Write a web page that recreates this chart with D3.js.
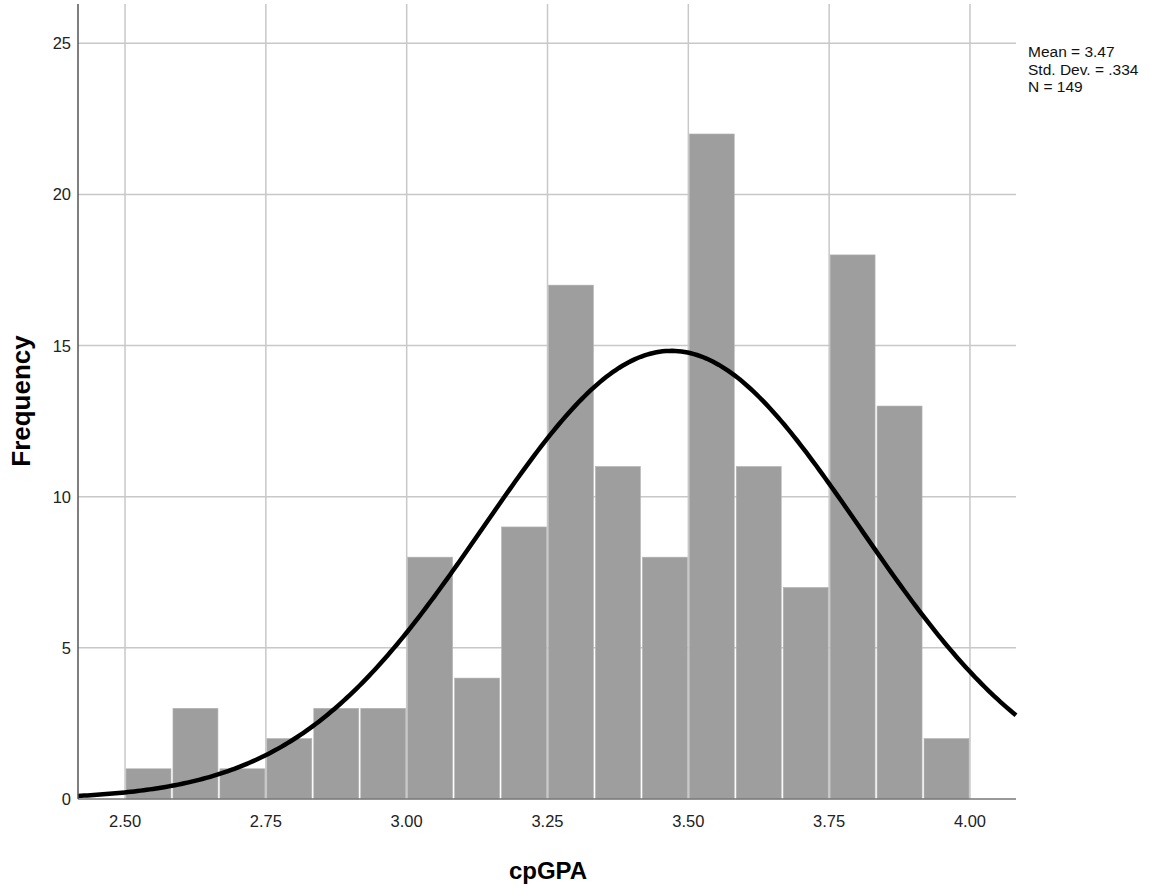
<!DOCTYPE html>
<html>
<head>
<meta charset="utf-8">
<script src="https://cdn.jsdelivr.net/npm/d3@7"></script>
<style>
    body { margin: 0; background: #fff; }
    #chart-area { width: 1151px; height: 888px; }
    text { font-family: "Liberation Sans", Arial, sans-serif; }
</style>
</head>
<body>
<div id="chart-area"></div>
<script>

// histogram bins (cpGPA) and counts
const binEdges = [2.5, 2.5833, 2.6667, 2.75, 2.8333, 2.9167, 3.0, 3.0833, 3.1667, 3.25,
                  3.3333, 3.4167, 3.5, 3.5833, 3.6667, 3.75, 3.8333, 3.9167, 4.0];
const counts = [1, 3, 1, 2, 3, 3, 8, 4, 9, 17, 11, 8, 22, 11, 7, 18, 13, 2];

// axis ticks
const xTicks = [2.5, 2.75, 3.0, 3.25, 3.5, 3.75, 4.0];
const xTickLabels = ["2.50", "2.75", "3.00", "3.25", "3.50", "3.75", "4.00"];
const yTicks = [0, 5, 10, 15, 20, 25];

// summary stats shown at the right
const statNames = ["Mean", "Std. Dev.", "N"];
const statValues = ["3.47", ".334", "149"];
const mean = 3.47, stdDev = 0.334, n = 149;


class HistogramVis {

    constructor(parentElement) {
        this.parentElement = parentElement;
        this.initVis();
    }

    initVis() {
        let vis = this;

        vis.svg = d3.select("#" + vis.parentElement).append("svg")
            .attr("width", 1151)
            .attr("height", 888);

        // plot box
        vis.left = 78; vis.right = 1016; vis.top = 4; vis.bottom = 799;

        vis.x = d3.scaleLinear()
            .domain([2.4165, 4.0817])
            .range([vis.left, vis.right]);

        vis.y = d3.scaleLinear()
            .domain([0, 26.3])
            .range([vis.bottom, vis.top]);

        vis.drawGrid();
        vis.drawBars();
        vis.drawCurve();
        vis.drawAxes();
        vis.drawStats();
    }

    drawGrid() {
        let vis = this;
        let grid = vis.svg.append("g").attr("class", "grid");

        grid.selectAll(".hgrid").data(yTicks.filter(d => d > 0))
            .enter().append("line")
            .attr("x1", vis.left).attr("x2", vis.right)
            .attr("y1", d => vis.y(d)).attr("y2", d => vis.y(d))
            .attr("stroke", "#c8c8c8").attr("stroke-width", 1.5);

        grid.selectAll(".vgrid").data(xTicks)
            .enter().append("line")
            .attr("x1", d => vis.x(d)).attr("x2", d => vis.x(d))
            .attr("y1", vis.top).attr("y2", vis.bottom)
            .attr("stroke", "#c8c8c8").attr("stroke-width", 1.5);
    }

    drawBars() {
        let vis = this;
        let bins = counts.map((c, i) => ({x0: binEdges[i], x1: binEdges[i + 1], count: c}));

        vis.svg.append("g").selectAll("rect").data(bins)
            .enter().append("rect")
            .attr("x", d => vis.x(d.x0) + 1)
            .attr("width", d => vis.x(d.x1) - vis.x(d.x0) - 2)
            .attr("y", d => vis.y(d.count))
            .attr("height", d => vis.bottom - vis.y(d.count))
            .attr("fill", "#9e9e9e")
            .attr("stroke", "#b4b4b4")
            .attr("stroke-width", 0.6);
    }

    drawCurve() {
        let vis = this;
        let binWidth = binEdges[1] - binEdges[0];
        let peak = n * binWidth / (stdDev * Math.sqrt(2 * Math.PI));
        let xs = d3.range(0, 301).map(i => vis.x.domain()[0] + i * (vis.x.domain()[1] - vis.x.domain()[0]) / 300);
        let pts = xs.map(v => [v, peak * Math.exp(-0.5 * Math.pow((v - mean) / stdDev, 2))]);

        vis.svg.append("path")
            .datum(pts)
            .attr("fill", "none")
            .attr("stroke", "#000")
            .attr("stroke-width", 4.5)
            .attr("d", d3.line().x(d => vis.x(d[0])).y(d => vis.y(d[1])));
    }

    drawAxes() {
        let vis = this;

        // axis lines
        vis.svg.append("line")
            .attr("x1", vis.left).attr("x2", vis.right)
            .attr("y1", vis.bottom).attr("y2", vis.bottom)
            .attr("stroke", "#777").attr("stroke-width", 1.5);

        vis.svg.append("line")
            .attr("x1", vis.left).attr("x2", vis.left)
            .attr("y1", vis.top).attr("y2", vis.bottom)
            .attr("stroke", "#555").attr("stroke-width", 1.5);

        // tick labels
        vis.svg.append("g").selectAll("text").data(yTicks)
            .enter().append("text")
            .attr("x", 71)
            .attr("y", d => vis.y(d) + 6)
            .attr("text-anchor", "end")
            .attr("font-size", 16.5)
            .attr("fill", "#222")
            .text(d => d);

        vis.svg.append("g").selectAll("text").data(xTicks)
            .enter().append("text")
            .attr("x", d => vis.x(d))
            .attr("y", 827)
            .attr("text-anchor", "middle")
            .attr("font-size", 16.5)
            .attr("fill", "#222")
            .text((d, i) => xTickLabels[i]);

        // axis titles
        vis.svg.append("text")
            .attr("x", 548).attr("y", 879)
            .attr("text-anchor", "middle")
            .attr("font-size", 24).attr("font-weight", "bold")
            .text("cpGPA");

        vis.svg.append("text")
            .attr("transform", "translate(30, 401) rotate(-90)")
            .attr("text-anchor", "middle")
            .attr("font-size", 26).attr("font-weight", "bold")
            .text("Frequency");
    }

    drawStats() {
        let vis = this;
        vis.svg.append("g").selectAll("text").data(statNames)
            .enter().append("text")
            .attr("x", 1028)
            .attr("y", (d, i) => 57 + i * 17.5)
            .attr("font-size", 15.5)
            .attr("fill", "#111")
            .text((d, i) => `${d} = ${statValues[i]}`);
    }
}

new HistogramVis("chart-area");

</script>
</body>
</html>
